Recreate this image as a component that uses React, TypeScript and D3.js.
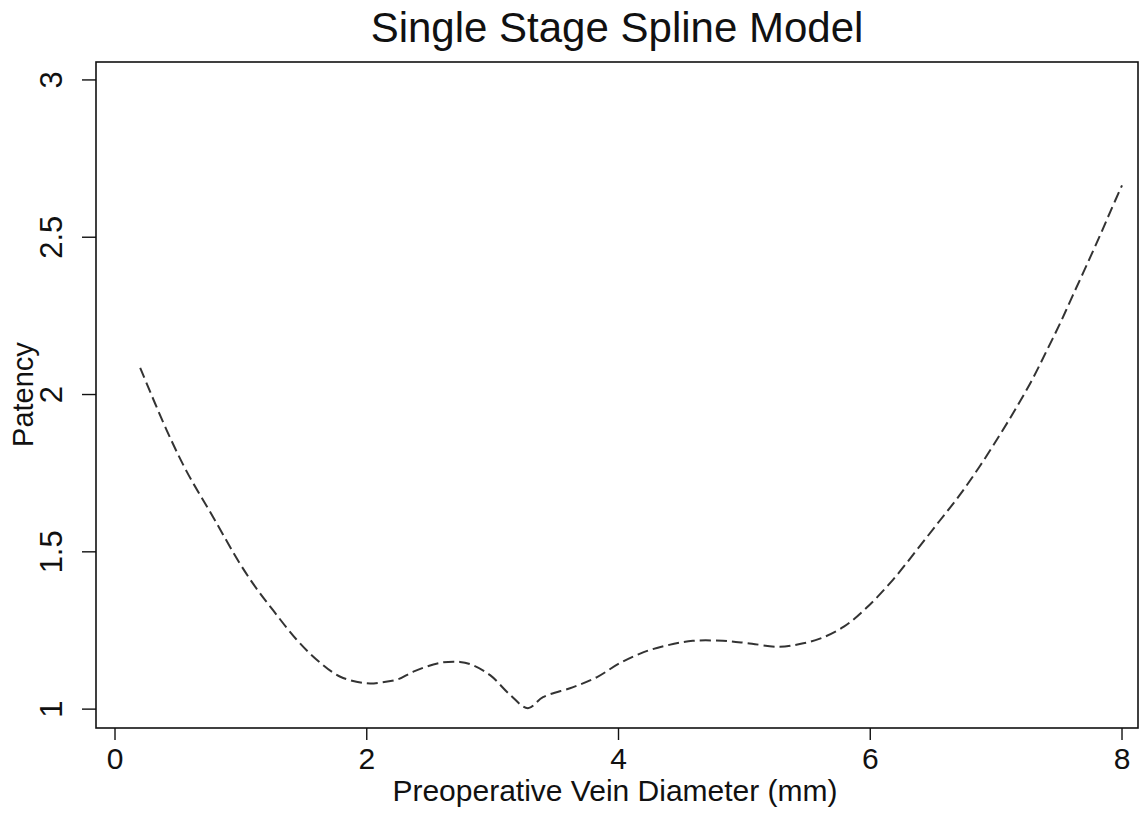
import React from "react";
import * as d3 from "d3";

const diameter = [0.2, 0.41, 0.57, 0.78, 0.99, 1.13, 1.26, 1.44, 1.6, 1.79, 2.0, 2.12, 2.25, 2.37, 2.58, 2.74, 2.84, 2.98, 3.14, 3.28, 3.4, 3.64, 3.83, 4.01, 4.2, 4.39, 4.59, 4.83, 5.02, 5.28, 5.44, 5.6, 5.79, 5.97, 6.18, 6.37, 6.55, 6.71, 6.87, 7.03, 7.16, 7.29, 7.4, 7.51, 7.61, 7.72, 7.83, 7.91, 8.0];
const patency = [2.085, 1.887, 1.755, 1.61, 1.464, 1.38, 1.312, 1.222, 1.158, 1.103, 1.082, 1.085, 1.095, 1.119, 1.147, 1.15, 1.14, 1.108, 1.045, 1.003, 1.038, 1.07, 1.102, 1.146, 1.181, 1.203, 1.217, 1.217, 1.21, 1.198, 1.207, 1.224, 1.262, 1.322, 1.411, 1.506, 1.598, 1.68, 1.772, 1.872, 1.958, 2.05, 2.138, 2.228, 2.316, 2.412, 2.51, 2.584, 2.665];
const xTicks = [0, 2, 4, 6, 8];
const yTicks = [1, 1.5, 2, 2.5, 3];

const W = 1142, H = 815;
const left = 96, right = 1138, top = 62, bottom = 728;

export default function App() {
  const x = d3.scaleLinear().domain([-0.151, 8.127]).range([left, right]);
  const y = d3.scaleLinear().domain([0.94, 3.057]).range([bottom, top]);
  const pts = diameter.map((d, i) => [d, patency[i]] as [number, number]);
  const line = d3.line<[number, number]>().x(d => x(d[0])).y(d => y(d[1])).curve(d3.curveCatmullRom.alpha(0.5));
  const font = "'Liberation Sans', Arial, Helvetica, sans-serif";
  return (
    <svg width={W} height={H} style={{ position: "absolute", left: 0, top: 0, background: "#fff" }} fontFamily={font}>
      <rect x={0} y={0} width={W} height={H} fill="#fff" />
      <text x={617} y={42} textAnchor="middle" fontSize={42} fill="#111">Single Stage Spline Model</text>
      <rect x={left} y={top} width={right - left} height={bottom - top} fill="none" stroke="#111" strokeWidth={1.6} />
      {xTicks.map(t => (
        <g key={"x" + t}>
          <line x1={x(t)} x2={x(t)} y1={bottom} y2={bottom + 12} stroke="#111" strokeWidth={1.4} />
          <text x={x(t)} y={769} textAnchor="middle" fontSize={30} fill="#111">{t}</text>
        </g>
      ))}
      {yTicks.map(t => (
        <g key={"y" + t}>
          <line x1={left - 14} x2={left} y1={y(t)} y2={y(t)} stroke="#111" strokeWidth={1.4} />
          <text transform={`translate(62,${y(t)}) rotate(-90)`} textAnchor="middle" fontSize={31} fill="#111">{t}</text>
        </g>
      ))}
      <text x={615} y={801} textAnchor="middle" fontSize={30} fill="#111">Preoperative Vein Diameter (mm)</text>
      <text transform={`translate(33,${y(2)}) rotate(-90)`} textAnchor="middle" fontSize={29} fill="#111">Patency</text>
      <path d={line(pts) || ""} fill="none" stroke="#333" strokeWidth={2} strokeDasharray="11,5" />
    </svg>
  );
}
